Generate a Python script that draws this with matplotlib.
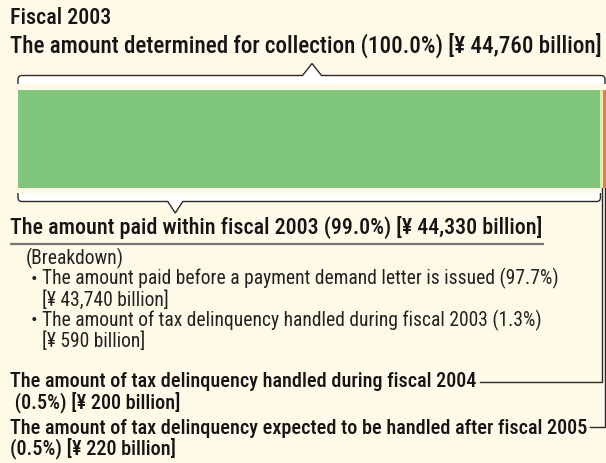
import matplotlib
matplotlib.use("Agg")
import matplotlib.pyplot as plt
from matplotlib.path import Path
from matplotlib.patches import PathPatch
from matplotlib import font_manager

# ---------------- data ----------------
year_label = "Fiscal 2003"
total_label = "The amount determined for collection (100.0%) [¥ 44,760 billion]"
segment_names = ["Paid within fiscal 2003", "Handled during fiscal 2004", "Handled after fiscal 2005"]
segment_values = [44330, 200, 220]          # ¥ billion
segment_colors = ["#80C67C", "#E2ECAE", "#EC7B55"]
paid_label = "The amount paid within fiscal 2003 (99.0%) [¥ 44,330 billion]"
breakdown_lines = [
    ("(Breakdown)", False),
    ("The amount paid before a payment demand letter is issued (97.7%)", True),
    ("[¥ 43,740 billion]", False),
    ("The amount of tax delinquency handled during fiscal 2003 (1.3%)", True),
    ("[¥ 590 billion]", False),
]
label_2004 = ["The amount of tax delinquency handled during fiscal 2004", " (0.5%) [¥ 200 billion]"]
label_2005 = ["The amount of tax delinquency expected to be handled after fiscal 2005", "(0.5%) [¥ 220 billion]"]

BG = "#FFFAE7"

# pick a narrow / condensed family if one is installed
entries = font_manager.fontManager.ttflist
FONT, STRETCH = "Liberation Sans", "normal"
for pref in ["Liberation Sans Narrow", "Roboto Condensed", "Open Sans Condensed", "Noto Sans Condensed",
             "DejaVu Sans Condensed"]:
    if any(f.name == pref for f in entries):
        FONT = pref
        break
else:
    for f in entries:
        if str(f.stretch) in ("condensed", "semi-condensed", "extra-condensed") and f.name in (
                "Roboto", "Open Sans", "Noto Sans", "DejaVu Sans", "Lato", "Inter"):
            FONT, STRETCH = f.name, f.stretch
            break

W, H = 606, 463
fig = plt.figure(figsize=(W / 100, H / 100), dpi=100, facecolor=BG)
ax = fig.add_axes([0, 0, 1, 1])
ax.set_xlim(0, W)
ax.set_ylim(H, 0)
ax.axis("off")

fig.canvas.draw()
r = fig.canvas.get_renderer()
inv = ax.transData.inverted()

def width_px(t):
    bb = t.get_window_extent(r)
    return bb.x1 - bb.x0

def fit_size(text, target, **kw):
    t = ax.text(0, 0, text, fontsize=10, **kw)
    w = width_px(t)
    t.remove()
    return 10 * target / w

HEADW = dict(fontfamily=FONT, fontstretch=STRETCH, fontweight="medium", color="#151515")
BODYW = dict(fontfamily=FONT, fontstretch=STRETCH, fontweight="normal", color="#222222")
s_title = fit_size(total_label, 588, **HEADW)
s_paid = fit_size(paid_label, 528, **HEADW)
s_2004 = fit_size(label_2004[0], 466, **HEADW)
s_2005 = fit_size(label_2005[0], 576, **HEADW)
bs = 0.975 * fit_size(breakdown_lines[1][0], 525, **BODYW)
BODY = dict(BODYW, fontsize=bs)

# bar axes
bx0, bx1, by0, by1 = 18, 606, 90, 188
bax = fig.add_axes([bx0 / W, 1 - by1 / H, (bx1 - bx0) / W, (by1 - by0) / H])
bax.set_xlim(0, sum(segment_values))
bax.set_ylim(-0.5, 0.5)
bax.axis("off")
left = 0
bounds = []
for v, c in zip(segment_values, segment_colors):
    bax.barh(0, v, left=left, height=1.0, color=c, edgecolor="none")
    bounds.append((left, left + v))
    left += v

def to_px(xval):
    disp = bax.transData.transform((xval, 0))
    return ax.transData.inverted().transform(disp)[0]

LC = "#2a2a2a"

def brace(x0, x1, yline, yend, notch_x, notch_w, notch_y):
    rr = 4
    sgn = 1 if yend > yline else -1
    verts = [(x0, yend), (x0, yline + sgn * rr), (x0, yline), (x0 + rr, yline),
             (notch_x - notch_w / 2, yline), (notch_x, notch_y), (notch_x + notch_w / 2, yline),
             (x1 - rr, yline), (x1, yline), (x1, yline + sgn * rr), (x1, yend)]
    codes = [Path.MOVETO, Path.LINETO, Path.CURVE3, Path.CURVE3,
             Path.LINETO, Path.LINETO, Path.LINETO,
             Path.LINETO, Path.CURVE3, Path.CURVE3, Path.LINETO]
    ax.add_patch(PathPatch(Path(verts + [(x0, yend)], codes + [Path.CLOSEPOLY]),
                           facecolor="white", edgecolor="none", zorder=2))
    ax.add_patch(PathPatch(Path(verts, codes), facecolor="none", edgecolor=LC, lw=1.0,
                           zorder=3, capstyle="butt", joinstyle="miter"))

xa, xb = to_px(0), to_px(sum(segment_values))
brace(xa, xb - 1, 75.5, 84, (xa + xb) / 2, 19, 63.5)
pa, pb = to_px(bounds[0][0]), to_px(bounds[0][1])
brace(pa, pb, 201.5, 193, pa + 0.27 * (pb - pa), 15, 213)

ax.text(10, 24, year_label, va="baseline", fontsize=s_paid, **HEADW)
ax.text(10, 53, total_label, va="baseline", fontsize=s_title, **HEADW)

t = ax.text(10, 234, paid_label, va="baseline", fontsize=s_paid, **HEADW)
xr = inv.transform((t.get_window_extent(r).x1, 0))[0]
ax.plot([10, xr + 2], [244, 244], color="#777777", lw=1.6, solid_capstyle="butt")

ys = [264, 284.5, 305.5, 326, 347]
for (s, bullet), y in zip(breakdown_lines, ys):
    if s.startswith("(Breakdown)"):
        ax.text(26, y, s, va="baseline", **BODY)
    elif bullet:
        ax.text(31, y, "•", va="baseline", **BODY)
        ax.text(42, y, s, va="baseline", **BODY)
    else:
        ax.text(42, y, s, va="baseline", **BODY)

c1 = to_px(sum(bounds[1]) / 2)
t = ax.text(10, 387, label_2004[0], va="baseline", fontsize=s_2004, **HEADW)
ax.text(10, 408, label_2004[1], va="baseline", fontsize=s_2004, **HEADW)
xr = inv.transform((t.get_window_extent(r).x1, 0))[0]
ax.plot([xr + 4, c1, c1], [381.5, 381.5, by1], color=LC, lw=1.0, solid_joinstyle="miter")

c2 = to_px(sum(bounds[2]) / 2)
t = ax.text(10, 434, label_2005[0], va="baseline", fontsize=s_2005, **HEADW)
ax.text(10, 454, label_2005[1], va="baseline", fontsize=s_2005, **HEADW)
xr = inv.transform((t.get_window_extent(r).x1, 0))[0]
ax.plot([xr + 3, c2, c2], [427, 427, by1], color=LC, lw=1.0, solid_joinstyle="miter")

fig.savefig("out.png", dpi=100, facecolor=BG)
